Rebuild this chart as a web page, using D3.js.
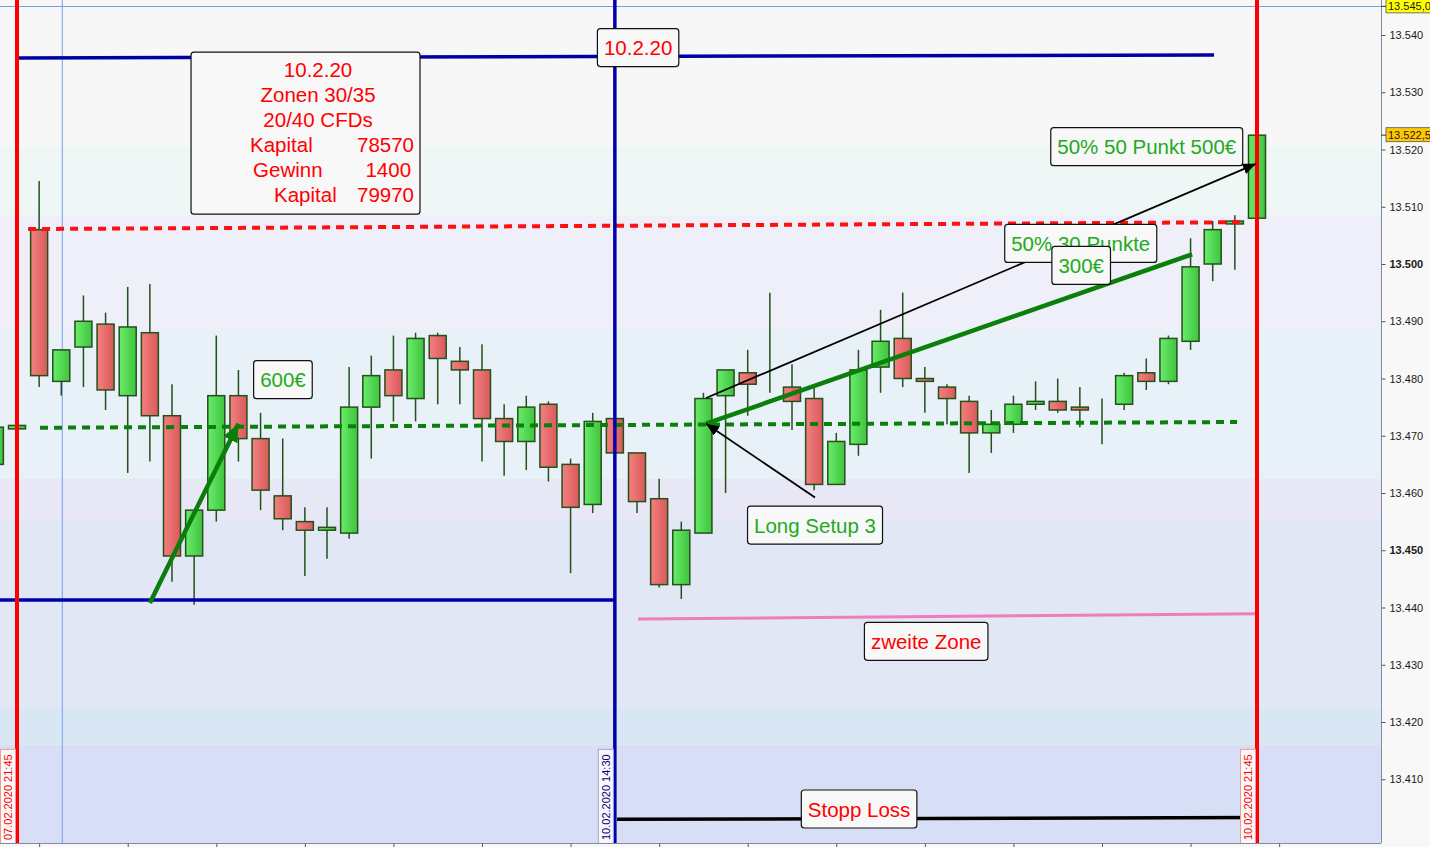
<!DOCTYPE html>
<html>
<head>
<meta charset="utf-8">
<script src="https://cdn.jsdelivr.net/npm/d3@7"></script>
<style>
  html, body { margin: 0; padding: 0; background: #f8f8f8; }
  svg { display: block; }
  text { font-family: "Liberation Sans", Arial, sans-serif; }
</style>
</head>
<body>
<svg id="chart" width="1430" height="847"></svg>
<script>
// ---------------- DATA ----------------
// candle index (15-min bars); index 0 = 07.02.2020 21:45, index 27 = 10.02.2020 14:30, index 56 = 10.02.2020 21:45
const candleIndex = d3.range(-1, 57);
const opens  = [13465, 13471.2, 13506, 13479.5, 13485.5, 13489.5, 13477, 13488, 13473.5, 13449, 13457, 13477, 13469.5, 13459.5, 13455, 13453.5, 13453, 13475, 13481.5, 13476.5, 13487.5, 13483, 13481.5, 13473, 13469, 13475.5, 13465, 13458, 13473, 13467, 13459, 13444, 13453, 13477, 13481, 13479, 13478.5, 13476.5, 13461.5, 13468.5, 13482, 13487, 13480, 13478.5, 13476, 13470.5, 13472, 13475.5, 13476, 13475, 13475, 13475.5, 13481, 13479.5, 13486.5, 13500, 13507, 13508];
const highs  = [13472, 13472, 13514.5, 13485, 13494.5, 13491.5, 13496, 13496.5, 13479, 13457, 13487.5, 13481.5, 13474, 13469.5, 13457.5, 13457.5, 13482, 13484, 13487.5, 13488, 13488, 13485.5, 13486, 13475.5, 13477, 13476, 13466, 13474, 13474, 13467, 13462.5, 13455, 13477.5, 13481.5, 13485, 13495, 13482.5, 13478.5, 13470.5, 13485, 13492, 13495, 13482, 13479, 13477, 13474.5, 13477, 13479.5, 13480, 13478.5, 13476.5, 13481, 13483.5, 13487.5, 13504.5, 13507.5, 13508.5, 13522.5];
const lows   = [13463, 13471, 13478.5, 13477, 13478.5, 13474.5, 13463.5, 13465.5, 13444.5, 13440.5, 13455, 13465.5, 13457, 13453.5, 13445.5, 13448.5, 13452, 13466, 13472.5, 13472.5, 13475.5, 13475.5, 13465.5, 13463, 13464, 13462, 13446, 13456.5, 13466.5, 13456.5, 13443.5, 13441.5, 13453, 13460, 13473.5, 13477.5, 13471, 13460.5, 13461.5, 13466.5, 13477.5, 13478.5, 13474, 13472, 13463.5, 13467, 13470.5, 13474.5, 13474, 13471.5, 13468.5, 13474.5, 13478, 13479, 13485, 13497, 13499, 13508];
const closes = [13471.5, 13471.8, 13480.5, 13485, 13490, 13478, 13489, 13473.5, 13449, 13457, 13477, 13469.5, 13460.5, 13455.5, 13453.5, 13454, 13475, 13480.5, 13477, 13487, 13483.5, 13481.5, 13473, 13469, 13475, 13464.5, 13457.5, 13472.5, 13467, 13458.5, 13444, 13453.5, 13476.5, 13481.5, 13479, 13479, 13476, 13461.5, 13469, 13481.5, 13486.5, 13480, 13479.5, 13476.5, 13470.5, 13472, 13475.5, 13476, 13474.5, 13474.5, 13475, 13480.5, 13479.5, 13487, 13499.5, 13506, 13507.5, 13522.5];

// price axis ticks
const priceTicks = [13410, 13420, 13430, 13440, 13450, 13460, 13470, 13480, 13490, 13500, 13510, 13520, 13530, 13540];
const boldTicks = [13450, 13500];
// hourly time ticks (candle indices at full hours)
const timeTicks = [1, 5, 9, 13, 17, 21, 25, 29, 33, 37, 41, 45, 49, 53, 57];

// background zones (price bounds, top -> bottom)
const zoneTops    = [13560, 13520.5, 13508.5, 13488.5, 13462.5, 13455.5, 13422.5, 13416];
const zoneBottoms = [13520.5, 13508.5, 13488.5, 13462.5, 13455.5, 13422.5, 13416, 13390];
const zoneColors  = ["#f7f7f7", "#eef7f6", "#eeeff8", "#e8f0f8", "#e8e7f6", "#e1e7f5", "#d9e7f5", "#d7def6"];

// drawn lines: [idx1, price1, idx2, price2]
const navyTop     = [0, 13536, 54.06, 13536.5];
const navyBottom  = [-0.8, 13441.3, 27, 13441.3];
const redDotted   = [0.5, 13506.1, 55.4, 13507.3];
const greenDotted = [1.04, 13471.4, 55.1, 13472.4];
const pinkLine    = [28.05, 13438.0, 56.05, 13438.9];
const blackLine   = [27.1, 13403.0, 56.05, 13403.3];
const greenArrow  = [6.0, 13440.8, 10.0, 13472.1];
const greenTrend  = [31.12, 13472.1, 53.07, 13501.7];
const blackArrow1 = [36.04, 13459.2, 31.12, 13472.1];
const blackArrow2 = [31.12, 13476.6, 55.95, 13517.5];

// vertical markers
const redVerticals = [0, 56];
const blueVertical = 27;
const thinBlueVertical = 2;
const thinBlueLevel = 13545;

// annotations (centre index, centre price, text, colour)
const noteTexts  = ["10.2.20", "600€", "Long Setup 3", "50% 50 Punkt 500€", "50% 30 Punkte", "300€", "zweite Zone", "Stopp Loss"];
const noteIdx    = [28.05, 12.01, 36.04, 51.02, 48.04, 48.06, 41.06, 38.03];
const notePrice  = [13537.8, 13479.8, 13454.4, 13520.5, 13503.6, 13499.75, 13434.1, 13404.8];
const noteColors = ["#ff0000", "#22aa22", "#22aa22", "#22aa22", "#22aa22", "#22aa22", "#ff0000", "#ff0000"];

// big info box
const infoBox = { idx1: 7.86, idx2: 18.2, p1: 13537.0, p2: 13508.7 };
const infoCentered = ["10.2.20", "Zonen 30/35", "20/40 CFDs"];
const infoLabels = ["Kapital", "Gewinn", "Kapital"];
const infoValues = ["78570", "1400", "79970"];

// date labels at vertical lines
const dateLabels = ["07.02.2020 21:45", "10.02.2020 14:30", "10.02.2020 21:45"];
const dateIdx = [0, 27, 56];
const dateColors = ["#ff0000", "#000080", "#ff0000"];
const dateBorders = ["#f09a9a", "#9aa8d8", "#f09a9a"];

// highlighted price labels
const markLabels = ["13.545,0", "13.522,5"];
const markPrices = [13545, 13522.5];
const markColors = ["#ffff00", "#ffc800"];

// ---------------- CHART ----------------
const plotRight = 1381, plotBottom = 843;
const svg = d3.select("#chart");

const x = d3.scaleLinear().domain([0, 56]).range([17, 1257]);
const y = d3.scaleLinear().domain([13500, 13540]).range([264, 35]);
const bodyW = 17;

const defs = svg.append("defs");
defs.append("clipPath").attr("id", "plotClip")
  .append("rect").attr("x", 0).attr("y", 0).attr("width", plotRight).attr("height", plotBottom);

const gGreen = defs.append("linearGradient").attr("id", "gGreen").attr("x1", 0).attr("x2", 1).attr("y1", 0).attr("y2", 0);
gGreen.append("stop").attr("offset", "0%").attr("stop-color", "#6aec6a");
gGreen.append("stop").attr("offset", "100%").attr("stop-color", "#3fc43f");
const gRed = defs.append("linearGradient").attr("id", "gRed").attr("x1", 0).attr("x2", 1).attr("y1", 0).attr("y2", 0);
gRed.append("stop").attr("offset", "0%").attr("stop-color", "#f48080");
gRed.append("stop").attr("offset", "100%").attr("stop-color", "#d85a5a");

function marker(id, color, len, wid) {
  defs.append("marker").attr("id", id)
    .attr("markerUnits", "userSpaceOnUse")
    .attr("markerWidth", len).attr("markerHeight", wid)
    .attr("refX", len).attr("refY", wid / 2)
    .attr("orient", "auto")
    .append("path").attr("d", `M0,0 L${len},${wid / 2} L0,${wid} Z`).attr("fill", color);
}
marker("arrowGreen", "#0a7d0a", 18, 16);
marker("arrowBlack", "#000000", 13, 11);

const plot = svg.append("g").attr("clip-path", "url(#plotClip)");

// zones
plot.selectAll("rect.zone").data(zoneColors).join("rect")
  .attr("class", "zone")
  .attr("x", 0).attr("width", plotRight)
  .attr("y", (d, i) => y(zoneTops[i]))
  .attr("height", (d, i) => y(zoneBottoms[i]) - y(zoneTops[i]))
  .attr("fill", d => d);

// thin blue reference lines
plot.append("line")
  .attr("x1", x(thinBlueVertical) + 1).attr("x2", x(thinBlueVertical) + 1)
  .attr("y1", 0).attr("y2", plotBottom)
  .attr("stroke", "#7b9cec").attr("stroke-width", 1);
plot.append("line")
  .attr("x1", 0).attr("x2", plotRight)
  .attr("y1", Math.round(y(thinBlueLevel)) + 0.5).attr("y2", Math.round(y(thinBlueLevel)) + 0.5)
  .attr("stroke", "#7b9cec").attr("stroke-width", 1);

// candles
const candles = candleIndex.map((idx, i) => ({ idx, o: opens[i], h: highs[i], l: lows[i], c: closes[i] }));
const cg = plot.append("g");
cg.selectAll("line.wick").data(candles).join("line")
  .attr("x1", d => x(d.idx)).attr("x2", d => x(d.idx))
  .attr("y1", d => y(d.h)).attr("y2", d => y(d.l))
  .attr("stroke", "#24501a").attr("stroke-width", 1.5);
cg.selectAll("rect.body").data(candles).join("rect")
  .attr("x", d => x(d.idx) - bodyW / 2)
  .attr("width", bodyW)
  .attr("y", d => y(Math.max(d.o, d.c)))
  .attr("height", d => Math.max(0, y(Math.min(d.o, d.c)) - y(Math.max(d.o, d.c))))
  .attr("fill", d => d.c > d.o ? "url(#gGreen)" : (d.c < d.o ? "url(#gRed)" : "none"))
  .attr("stroke", "#24501a").attr("stroke-width", 1.5);

function seg(arr, color, width, dash, mk) {
  const l = plot.append("line")
    .attr("x1", x(arr[0])).attr("y1", y(arr[1]))
    .attr("x2", x(arr[2])).attr("y2", y(arr[3]))
    .attr("stroke", color).attr("stroke-width", width);
  if (dash) l.attr("stroke-dasharray", dash);
  if (mk) l.attr("marker-end", `url(#${mk})`);
  return l;
}

seg(navyTop, "#0000a8", 3.5);
seg(navyBottom, "#0000a8", 3.5);
seg(redDotted, "#ff1010", 4, "8,6");
seg(greenDotted, "#0a800a", 4, "8,6");
seg(pinkLine, "#f07cbc", 3);
seg(blackLine, "#000000", 3.5);

// vertical lines
plot.selectAll("line.redv").data(redVerticals).join("line")
  .attr("x1", d => x(d)).attr("x2", d => x(d))
  .attr("y1", 0).attr("y2", plotBottom)
  .attr("stroke", "#ff0000").attr("stroke-width", 4);
plot.append("line")
  .attr("x1", x(blueVertical)).attr("x2", x(blueVertical))
  .attr("y1", 0).attr("y2", plotBottom)
  .attr("stroke", "#0000aa").attr("stroke-width", 3.5);

// arrows / trend lines
seg(greenArrow, "#0a7d0a", 4.5, null, "arrowGreen");
seg(greenTrend, "#0a800a", 4.5);
seg(blackArrow1, "#000000", 1.8, null, "arrowBlack");
seg(blackArrow2, "#000000", 1.8, null, "arrowBlack");

// annotation boxes
const FS = 20.5;
noteTexts.forEach((t, i) => {
  const g = plot.append("g");
  const cx = x(noteIdx[i]), cy = y(notePrice[i]);
  const rect = g.append("rect");
  const txt = g.append("text")
    .attr("x", cx).attr("y", cy + 7.5)
    .attr("text-anchor", "middle")
    .attr("font-size", FS)
    .attr("fill", noteColors[i])
    .text(t);
  const tw = txt.node().getComputedTextLength();
  const bw = tw + 13;
  rect.attr("x", cx - bw / 2).attr("y", cy - 19).attr("width", bw).attr("height", 38)
    .attr("rx", 3).attr("fill", "#f8f8f8").attr("stroke", "#111").attr("stroke-width", 1.2);
});

// info box
{
  const g = plot.append("g");
  const bx = x(infoBox.idx1), by = y(infoBox.p1);
  const bw = x(infoBox.idx2) - bx, bh = y(infoBox.p2) - by;
  g.append("rect").attr("x", bx).attr("y", by).attr("width", bw).attr("height", bh)
    .attr("rx", 3).attr("fill", "#f8f8f8").attr("stroke", "#111").attr("stroke-width", 1.2);
  const lineH = 25, firstBase = by + 25;
  infoCentered.forEach((t, i) => {
    g.append("text").attr("x", bx + 127).attr("y", firstBase + i * lineH)
      .attr("text-anchor", "middle").attr("font-size", FS).attr("fill", "#ff0000").text(t);
  });
  const labelX = [59, 62, 83];
  const valueX = [223, 220, 223];
  infoLabels.forEach((t, i) => {
    g.append("text").attr("x", bx + labelX[i]).attr("y", firstBase + (i + 3) * lineH)
      .attr("font-size", FS).attr("fill", "#ff0000").text(t);
    g.append("text").attr("x", bx + valueX[i]).attr("y", firstBase + (i + 3) * lineH)
      .attr("text-anchor", "end").attr("font-size", FS).attr("fill", "#ff0000").text(infoValues[i]);
  });
}

// date labels (vertical)
dateLabels.forEach((t, i) => {
  const g = plot.append("g");
  const lx = x(dateIdx[i]);
  const txt = g.append("text")
    .attr("transform", `translate(${lx - 5},${plotBottom - 3}) rotate(-90)`)
    .attr("font-size", 11).attr("fill", dateColors[i]).text(t);
  const tl = txt.node().getComputedTextLength();
  g.insert("rect", "text")
    .attr("x", lx - 16.5).attr("y", plotBottom - tl - 8).attr("width", 15).attr("height", tl + 10)
    .attr("fill", "#f8f8f8").attr("stroke", dateBorders[i]).attr("stroke-width", 1);
});

// ---------------- AXES ----------------
const yAxis = d3.axisRight(y).tickValues(priceTicks).tickSize(4).tickPadding(4)
  .tickFormat(d => d3.format(",")(d).replace(",", "."));
const ya = svg.append("g").attr("transform", `translate(${plotRight + 0.5},0)`).call(yAxis);
ya.select(".domain").attr("d", `M0,0V${plotBottom}`).attr("stroke", "#7f8e9e");
ya.selectAll(".tick line").attr("stroke", "#556");
ya.selectAll(".tick text")
  .attr("font-size", 11).attr("fill", "#1a1a1a")
  .attr("font-family", "'Liberation Sans', Arial, sans-serif")
  .attr("font-weight", d => boldTicks.includes(d) ? "bold" : "normal");

const xAxis = d3.axisBottom(x).tickValues(timeTicks).tickSize(4).tickFormat("");
const xa = svg.append("g").attr("transform", `translate(0,${plotBottom + 0.5})`).call(xAxis);
xa.select(".domain").attr("d", `M0,0H${plotRight}`).attr("stroke", "#7f8e9e");
xa.selectAll(".tick line").attr("stroke", "#556");

// highlighted price labels
markLabels.forEach((t, i) => {
  const cy = y(markPrices[i]);
  const g = svg.append("g");
  g.append("rect").attr("x", plotRight + 5).attr("y", cy - 7.5).attr("width", 60).attr("height", 14)
    .attr("fill", markColors[i]).attr("stroke", "#555").attr("stroke-width", 0.8);
  g.append("line").attr("x1", plotRight).attr("x2", plotRight + 5).attr("y1", cy).attr("y2", cy)
    .attr("stroke", "#333");
  g.append("text").attr("x", plotRight + 7).attr("y", cy + 4).attr("font-size", 11)
    .attr("fill", "#1a1a1a").text(t);
});
</script>
</body>
</html>
